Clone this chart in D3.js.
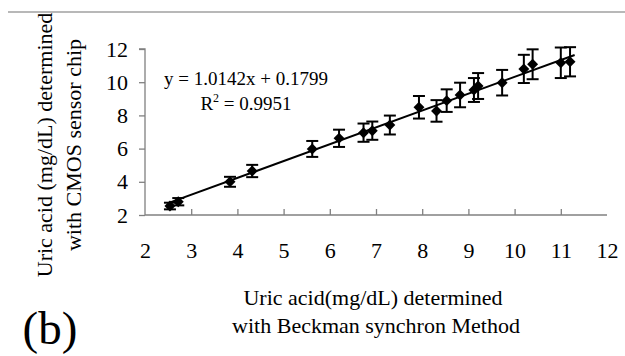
<!DOCTYPE html>
<html>
<head>
<meta charset="utf-8">
<script src="https://cdn.jsdelivr.net/npm/d3@7"></script>
<style>
  html, body { margin: 0; padding: 0; background: #fff; }
  svg { display: block; }
  svg text { font-family: "Liberation Serif", "Times New Roman", serif; fill: #000; }
</style>
</head>
<body>
<svg id="chart" width="625" height="356"></svg>
<script>
// Reference method (Beckman synchron) vs. CMOS sensor chip, uric acid in mg/dL
const beckman = [2.54, 2.72, 3.84, 4.32, 5.62, 6.2, 6.73, 6.92, 7.3, 7.93, 8.31, 8.53, 8.82, 9.12, 9.21, 9.73, 10.2, 10.39, 11.0, 11.2];
const cmos    = [2.54, 2.8, 4.0, 4.65, 5.98, 6.62, 6.96, 7.08, 7.42, 8.49, 8.27, 8.89, 9.23, 9.53, 9.77, 9.97, 10.8, 11.08, 11.17, 11.23];
const errors  = [0.2, 0.22, 0.3, 0.37, 0.48, 0.52, 0.55, 0.55, 0.57, 0.68, 0.65, 0.68, 0.74, 0.72, 0.78, 0.77, 0.85, 0.9, 0.92, 0.88];
const xTicks = [2, 3, 4, 5, 6, 7, 8, 9, 10, 11, 12];
const yTicks = [2, 4, 6, 8, 10, 12];
const slope = 1.0142, intercept = 0.1799, rSquared = 0.9951;
const fitRange = [2.5, 11.3];

const svg = d3.select("#chart");
const x = d3.scaleLinear().domain([2, 12]).range([145, 607]);
const y = d3.scaleLinear().domain([2, 12]).range([215, 49]);
const axisColor = "#808080";

// rule across the top of the panel
svg.append("line").attr("x1", 8).attr("x2", 625).attr("y1", 12).attr("y2", 12)
  .attr("stroke", "#a0a0a0").attr("stroke-width", 1.6);

// y axis
const gy = svg.append("g").attr("transform", `translate(${x(2)},0)`)
  .call(d3.axisLeft(y).tickValues(yTicks).tickSize(6).tickPadding(11));
gy.attr("font-family", null).attr("font-size", null);
gy.select(".domain").attr("stroke", axisColor).attr("stroke-width", 1.3).attr("d", `M-6,${y(12)}H0V${y(2)}`);
gy.selectAll(".tick line").attr("stroke", axisColor).attr("stroke-width", 1.3);
gy.selectAll(".tick text").attr("font-size", 22);

// x axis, ticks pointing into the plot
const gx = svg.append("g").attr("transform", `translate(0,${y(2)})`)
  .call(d3.axisBottom(x).tickValues(xTicks).tickSize(-6).tickPadding(27));
gx.attr("font-family", null).attr("font-size", null);
gx.select(".domain").attr("stroke", axisColor).attr("stroke-width", 1.3).attr("d", `M${x(2)},0H${x(12)}`);
gx.selectAll(".tick line").attr("stroke", axisColor).attr("stroke-width", 1.3)
  .attr("display", d => (d === 2 || d === 12) ? "none" : null);
gx.selectAll(".tick text").attr("font-size", 22);

// regression line
svg.append("line")
  .attr("x1", x(fitRange[0])).attr("y1", y(slope * fitRange[0] + intercept))
  .attr("x2", x(fitRange[1])).attr("y2", y(slope * fitRange[1] + intercept))
  .attr("stroke", "#000").attr("stroke-width", 2);

const pts = beckman.map((v, i) => ({ bx: v, cy: cmos[i], e: errors[i] }));

// error bars
const eb = svg.append("g").attr("stroke", "#000").attr("stroke-width", 2);
pts.forEach(p => {
  const cx = x(p.bx), top = y(p.cy + p.e), bot = y(p.cy - p.e);
  eb.append("line").attr("x1", cx).attr("x2", cx).attr("y1", top).attr("y2", bot);
  eb.append("line").attr("x1", cx - 6).attr("x2", cx + 6).attr("y1", top).attr("y2", top);
  eb.append("line").attr("x1", cx - 6).attr("x2", cx + 6).attr("y1", bot).attr("y2", bot);
});

// diamond markers
svg.append("g").selectAll("path").data(pts).join("path")
  .attr("d", d3.symbol(d3.symbolSquare, 60))
  .attr("transform", d => `translate(${x(d.bx)},${y(d.cy)}) rotate(45)`)
  .attr("fill", "#000");

// fit equation
svg.append("text").attr("x", 246).attr("y", 85).attr("text-anchor", "middle")
  .attr("font-size", 19).text(`y = ${slope}x + ${intercept}`);
const r2 = svg.append("text").attr("x", 246).attr("y", 110).attr("text-anchor", "middle").attr("font-size", 19);
r2.append("tspan").text("R");
r2.append("tspan").attr("dy", -8).attr("font-size", 12).text("2");
r2.append("tspan").attr("dy", 8).text(` = ${rSquared}`);

// axis titles
const yt = svg.append("text").attr("transform", "translate(0,145) rotate(-90)")
  .attr("text-anchor", "middle").attr("font-size", 22);
yt.append("tspan").attr("x", 0).attr("y", 52).text("Uric acid (mg/dL) determined");
yt.append("tspan").attr("x", 0).attr("y", 81).text("with CMOS sensor chip");

svg.append("text").attr("x", 373).attr("y", 305).attr("text-anchor", "middle")
  .attr("font-size", 22).text("Uric acid(mg/dL) determined");
svg.append("text").attr("x", 376).attr("y", 333).attr("text-anchor", "middle")
  .attr("font-size", 22).text("with Beckman synchron Method");

// panel label
svg.append("text").attr("x", 50).attr("y", 344).attr("text-anchor", "middle")
  .attr("font-size", 47).text("(b)");
</script>
</body>
</html>
